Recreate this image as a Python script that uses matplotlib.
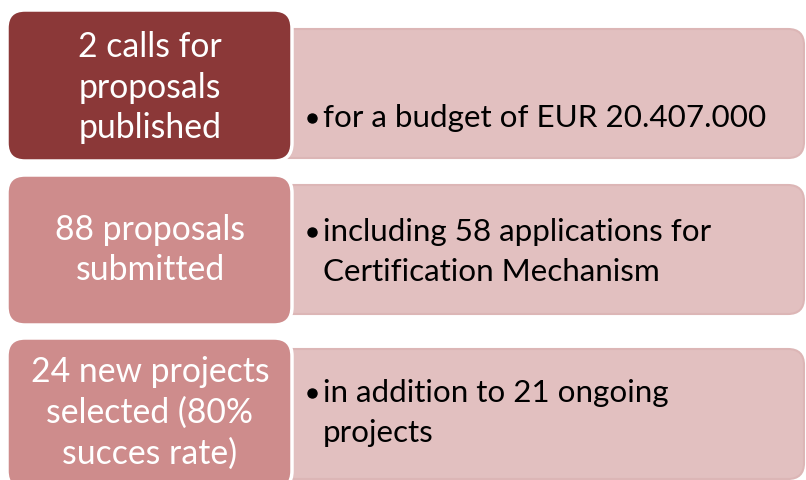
import matplotlib.pyplot as plt
from matplotlib.patches import FancyBboxPatch

# left (dark) boxes and right (light) boxes
left_labels = [["2 calls for", "proposals", "published"],
               ["88 proposals", "submitted"],
               ["24 new projects", "selected (80%", "succes rate)"]]
right_labels = [["for a budget of EUR 20.407.000"],
                ["including 58 applications for", "Certification Mechanism"],
                ["in addition to 21 ongoing", "projects"]]
left_colors = ["#8b3838", "#ce8c8c", "#ce8c8c"]
right_color = "#e2c0c0"

# box layout in pixels (top, bottom) and text centres
left_rows = [(11, 162), (176, 326), (339, 490)]
right_rows = [(30, 159), (186, 315), (350, 480)]
left_text_y = [87.5, 250, 413]
right_text_y = [118, 252, 413]
line_h = 40.5

W, H = 806, 481
fig = plt.figure(figsize=(W / 100, H / 100), dpi=100)
ax = fig.add_axes([0, 0, 1, 1])
ax.set_xlim(0, W)
ax.set_ylim(H, 0)
ax.axis("off")

font = "Lato"

for i in range(3):
    t, b = right_rows[i]
    ax.add_patch(FancyBboxPatch((270, t), 804 - 270, b - t,
                                boxstyle="round,pad=0,rounding_size=16",
                                fc=right_color, ec="#dcb6b6", lw=1.5, zorder=1))
    t, b = left_rows[i]
    ax.add_patch(FancyBboxPatch((7, t), 285, b - t,
                                boxstyle="round,pad=0,rounding_size=18",
                                fc=left_colors[i], ec="white", lw=2.5, zorder=2))

    n = len(left_labels[i])
    for k, line in enumerate(left_labels[i]):
        y = left_text_y[i] + (k - (n - 1) / 2) * line_h
        ax.text(150, y, line, color="white", fontsize=24.3, family=font,
                ha="center", va="center", zorder=3)

    n = len(right_labels[i])
    y0 = right_text_y[i] - (n - 1) / 2 * line_h
    ax.plot(312, y0 + 1, "o", color="black", ms=6.5, zorder=3)
    for k, line in enumerate(right_labels[i]):
        ax.text(323, y0 + k * line_h, line, color="black", fontsize=22.6,
                family=font, ha="left", va="center", zorder=3)

fig.savefig("out.png", dpi=100)
